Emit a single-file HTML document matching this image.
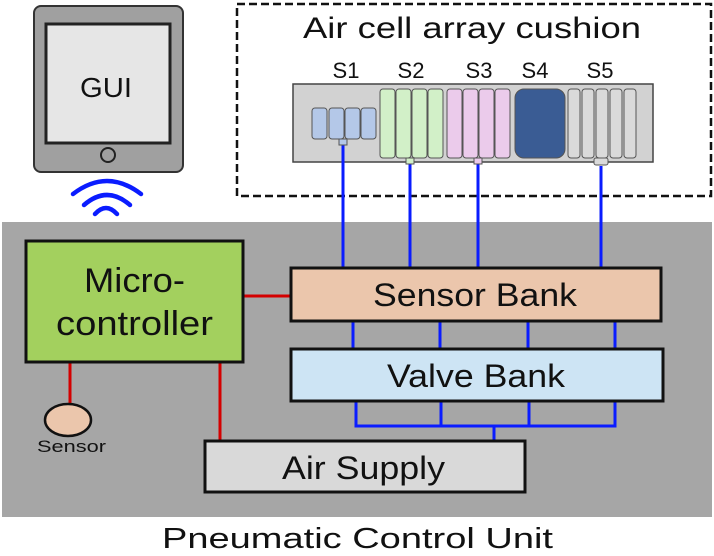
<!DOCTYPE html>
<html><head><meta charset="utf-8"><style>body{margin:0;background:#fff}svg{display:block}text{font-family:"Liberation Sans",sans-serif;fill:#111}</style></head><body>
<svg width="714" height="556" viewBox="0 0 714 556">
<rect x="2" y="222" width="710" height="295" fill="#a6a6a6"/>
<!-- tablet -->
<rect x="34" y="6" width="149" height="166" rx="7" fill="#a0a0a0" stroke="#333" stroke-width="2"/>
<rect x="46" y="24" width="124" height="119" fill="#e6e6e6" stroke="#222" stroke-width="3"/>
<text x="106" y="97" font-size="28" text-anchor="middle" textLength="52" lengthAdjust="spacingAndGlyphs">GUI</text>
<circle cx="108" cy="155" r="7" fill="none" stroke="#222" stroke-width="2"/>
<g fill="none" stroke="#0a1cff" stroke-width="4.5" stroke-linecap="round">
<path d="M73 194 Q107 168 141 194"/>
<path d="M84 205 Q107 185 130 205"/>
<path d="M95 214 Q106 202 117 214"/>
</g>
<!-- dashed box -->
<rect x="237" y="4" width="474" height="192" fill="none" stroke="#111" stroke-width="2.5" stroke-dasharray="8,4"/>
<text x="303" y="38" font-size="30" textLength="338" lengthAdjust="spacingAndGlyphs">Air cell array cushion</text>
<g font-size="22" text-anchor="middle"><text x="346" y="78">S1</text><text x="411" y="78">S2</text><text x="479" y="78">S3</text><text x="535" y="78">S4</text><text x="600" y="78">S5</text></g>
<rect x="293" y="84" width="360" height="78" fill="#d2d2d2" stroke="#444" stroke-width="1.5"/>
<g stroke="#555" stroke-width="1">
<g fill="#b4c8e8"><rect x="312" y="108" width="15" height="31" rx="3"/><rect x="329" y="108" width="15" height="31" rx="3"/><rect x="345" y="108" width="15" height="31" rx="3"/><rect x="361" y="108" width="15" height="31" rx="3"/></g>
<g fill="#d2f0c8"><rect x="380" y="89" width="15" height="69" rx="3"/><rect x="396" y="89" width="15" height="69" rx="3"/><rect x="412" y="89" width="15" height="69" rx="3"/><rect x="428" y="89" width="15" height="69" rx="3"/></g>
<g fill="#ebcbeb"><rect x="447" y="89" width="15" height="69" rx="3"/><rect x="463" y="89" width="15" height="69" rx="3"/><rect x="479" y="89" width="15" height="69" rx="3"/><rect x="495" y="89" width="15" height="69" rx="3"/></g>
<rect x="515" y="89" width="50" height="69" rx="9" fill="#3a5c94"/>
<g fill="#dadada"><rect x="568" y="89" width="12" height="69" rx="3"/><rect x="582" y="89" width="12" height="69" rx="3"/><rect x="596" y="89" width="12" height="69" rx="3"/><rect x="610" y="89" width="12" height="69" rx="3"/><rect x="624" y="89" width="12" height="69" rx="3"/></g>
</g>
<g stroke="#0a1cff" stroke-width="3"><line x1="343" y1="145" x2="343" y2="268"/><line x1="410" y1="163" x2="410" y2="268"/><line x1="478" y1="163" x2="478" y2="268"/><line x1="601" y1="166" x2="601" y2="268"/></g>
<g stroke="#555" stroke-width="1"><rect x="339" y="139" width="8" height="6" fill="#b4c8e8"/><rect x="406" y="158" width="8" height="6" fill="#d2f0c8"/><rect x="474" y="158" width="8" height="6" fill="#ebcbeb"/><rect x="594" y="158" width="14" height="7" rx="2" fill="#dadada"/></g>
<!-- red lines -->
<g stroke="#d40000" stroke-width="3"><line x1="243" y1="296" x2="291" y2="296"/><line x1="70" y1="362" x2="70" y2="404"/><line x1="220" y1="362" x2="220" y2="441"/></g>
<!-- blue between banks -->
<g stroke="#0a1cff" stroke-width="3" fill="none"><line x1="353" y1="321" x2="353" y2="349"/><line x1="440" y1="321" x2="440" y2="349"/><line x1="528" y1="321" x2="528" y2="349"/><line x1="615" y1="321" x2="615" y2="349"/>
<path d="M356 401 V426 H615 V401 M441 401 V426 M529 401 V426 M494 426 V441"/></g>
<rect x="26" y="241" width="217" height="121" fill="#a3d05e" stroke="#111" stroke-width="3"/>
<text x="84" y="292" font-size="34" textLength="101" lengthAdjust="spacingAndGlyphs">Micro-</text>
<text x="56" y="335" font-size="34" textLength="157" lengthAdjust="spacingAndGlyphs">controller</text>
<rect x="291" y="268" width="370" height="53" fill="#ebc6ac" stroke="#111" stroke-width="3"/>
<text x="373" y="306" font-size="32" textLength="204" lengthAdjust="spacingAndGlyphs">Sensor Bank</text>
<rect x="291" y="349" width="372" height="52" fill="#cde4f4" stroke="#111" stroke-width="3"/>
<text x="387" y="387" font-size="32" textLength="178" lengthAdjust="spacingAndGlyphs">Valve Bank</text>
<rect x="205" y="441" width="320" height="51" fill="#d9d9d9" stroke="#111" stroke-width="3"/>
<text x="282" y="479" font-size="32" textLength="163" lengthAdjust="spacingAndGlyphs">Air Supply</text>
<ellipse cx="68" cy="420" rx="23" ry="16" fill="#ebc6ac" stroke="#111" stroke-width="2.5"/>
<text x="37" y="452" font-size="17" textLength="69" lengthAdjust="spacingAndGlyphs" fill="#222">Sensor</text>
<text x="162" y="548" font-size="29" textLength="391" lengthAdjust="spacingAndGlyphs">Pneumatic Control Unit</text>
</svg>
</body></html>
